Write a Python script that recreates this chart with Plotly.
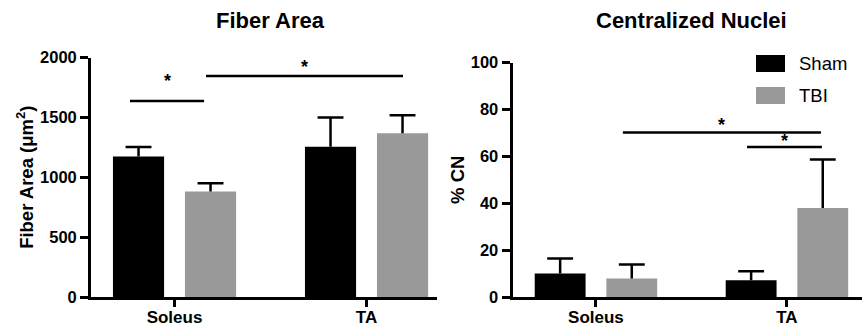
import plotly.graph_objects as go

# ---------------- data ----------------
categories = ["Soleus", "TA"]
groups = ["Sham", "TBI"]
group_colors = ["#000000", "#999999"]

fiber_sham = [1173, 1255]
fiber_sham_err = [80, 245]
fiber_tbi = [882, 1368]
fiber_tbi_err = [68, 150]

cn_sham = [10, 7.1]
cn_sham_err = [6.4, 3.9]
cn_tbi = [7.9, 38]
cn_tbi_err = [6, 20.6]

fiber_ticks = [0, 500, 1000, 1500, 2000]
cn_ticks = [0, 20, 40, 60, 80, 100]

# significance brackets: (x start, x end, line level, star level)
fiber_sig = [(-0.232, 0.154, 1637, 1800), (0.164, 1.19, 1845, 1918)]
cn_sig = [(0.141, 1.178, 70.1, 73.4), (0.791, 1.183, 64.0, 66.4)]

xpos = list(range(len(categories)))
FONT = "Liberation Sans"
BARGAP = 0.25
BARGROUPGAP = 0.29
slot = (1 - BARGAP) / len(groups)
offsets = [(-(1 - BARGAP) / 2 + slot * (i + 0.5)) for i in range(len(groups))]

fig = go.Figure()


def add_bars(ys, errs, gi, xa, ya):
    fig.add_trace(go.Bar(
        x=xpos, y=ys, name=groups[gi], showlegend=False,
        marker=dict(color=group_colors[gi], line=dict(width=0)),
        error_y=dict(type="data", array=errs, arrayminus=[0] * len(errs),
                     symmetric=False, color="black", thickness=2.5, width=0),
        xaxis=xa, yaxis=ya,
    ))
    # error bar caps (top only)
    fig.add_trace(go.Scatter(
        x=[p + offsets[gi] for p in xpos], y=[v + e for v, e in zip(ys, errs)],
        mode="markers", showlegend=False, hoverinfo="skip",
        marker=dict(symbol="line-ew", size=18.5, line=dict(color="black", width=2.5)),
        xaxis=xa, yaxis=ya,
    ))


add_bars(fiber_sham, fiber_sham_err, 0, "x", "y")
add_bars(fiber_tbi, fiber_tbi_err, 1, "x", "y")
add_bars(cn_sham, cn_sham_err, 0, "x2", "y2")
add_bars(cn_tbi, cn_tbi_err, 1, "x2", "y2")

axis_common = dict(
    showline=True, linewidth=2.8, linecolor="black", ticks="outside",
    tickwidth=2.5, tickcolor="black", showgrid=False,
    zeroline=False, automargin=False,
)
xfont = dict(family=FONT, size=17, color="black", weight=700)
yfont = dict(family=FONT, size=16.5, color="black", weight=700)
titlefont = dict(family=FONT, size=18.5, color="black", weight=700)

W, H = 862, 330

fig.update_layout(
    width=W, height=H,
    margin=dict(l=0, r=0, t=0, b=0, autoexpand=False),
    paper_bgcolor="white", plot_bgcolor="white",
    barmode="group", bargap=BARGAP, bargroupgap=BARGROUPGAP,
    xaxis=dict(domain=[91 / W, 437 / W], range=[-0.435, 1.367], anchor="y",
               tickvals=xpos, ticktext=categories, ticklen=7, tickfont=xfont,
               ticklabelstandoff=-4, **axis_common),
    yaxis=dict(domain=[(H - 297) / H, (H - 57.5) / H], range=[0, 2000], anchor="x",
               tickvals=fiber_ticks, ticklen=8, tickfont=yfont,
               title=dict(text="Fiber Area (μm<sup>2</sup>)", font=titlefont, standoff=2),
               **axis_common),
    xaxis2=dict(domain=[512.5 / W, 1.0], range=[-0.437, 1.393], anchor="y2",
                tickvals=xpos, ticktext=categories, ticklen=7, tickfont=xfont,
                ticklabelstandoff=-4, **axis_common),
    yaxis2=dict(domain=[(H - 297) / H, (H - 62.5) / H], range=[0, 100], anchor="x2",
                tickvals=cn_ticks, ticklen=8, tickfont=yfont,
                title=dict(text="% CN", font=titlefont, standoff=2),
                **axis_common),
)

shapes = []
annotations = []

for sig, xr, yr in [(fiber_sig, "x", "y"), (cn_sig, "x2", "y2")]:
    for x0, x1, ly, sy in sig:
        shapes.append(dict(type="line", xref=xr, yref=yr, x0=x0, x1=x1, y0=ly, y1=ly,
                           line=dict(color="black", width=2.5)))
        annotations.append(dict(xref=xr, yref=yr, x=(x0 + x1) / 2, y=sy, text="*",
                                showarrow=False, yanchor="middle",
                                font=dict(family=FONT, size=18, color="black", weight=700)))

# panel titles
for txt, xc in [("Fiber Area", 270), ("Centralized Nuclei", 691)]:
    annotations.append(dict(xref="paper", yref="paper", x=xc / W, y=(H - 21) / H,
                            text=txt, showarrow=False, xanchor="center", yanchor="middle",
                            font=dict(family=FONT, size=22, color="black", weight=700)))

# legend (drawn in the right panel)
for i, (g, c) in enumerate(zip(groups, group_colors)):
    top = 55 + i * 32
    shapes.append(dict(type="rect", xref="paper", yref="paper",
                       x0=756 / W, x1=785 / W, y0=(H - top - 17) / H, y1=(H - top) / H,
                       fillcolor=c, line=dict(width=0)))
    annotations.append(dict(xref="paper", yref="paper", x=797 / W, y=(H - top - 8.5) / H,
                            text=g, showarrow=False, xanchor="left", yanchor="middle",
                            font=dict(family=FONT, size=18.5, color="black")))

fig.update_layout(shapes=shapes, annotations=annotations)

fig.write_html(
    "out.html",
    config={"displayModeBar": False},
    post_script="document.body.style.margin='0';document.body.style.overflow='hidden';",
)
